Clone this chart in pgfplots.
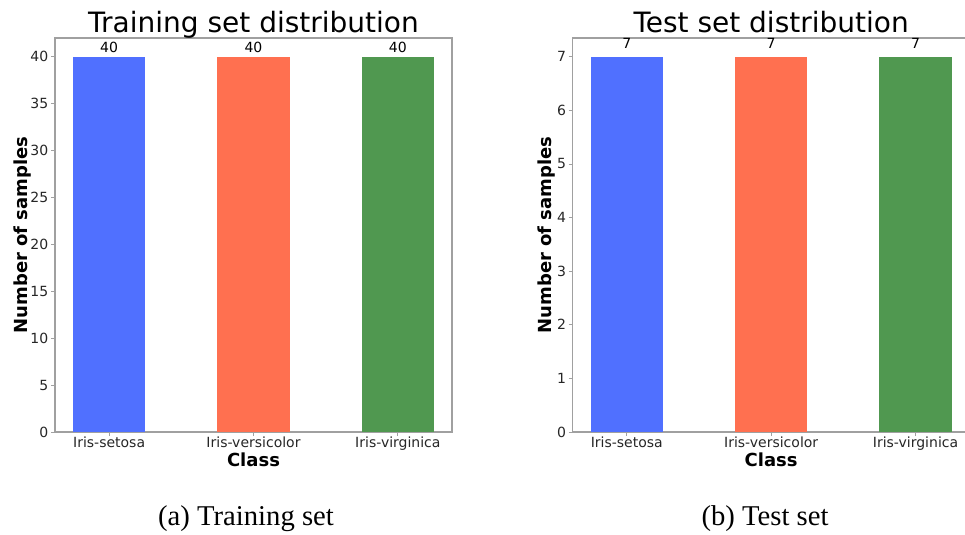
\documentclass[border=0pt]{standalone}
\usepackage{pgfplots}
\pgfplotsset{compat=1.18}
\usepackage{fontspec}
\setmainfont{DejaVu Sans}
\newfontfamily\capfont{Liberation Serif}

\definecolor{barblue}{HTML}{5070FF}
\definecolor{barorange}{HTML}{FF7050}
\definecolor{bargreen}{HTML}{509850}
\definecolor{framegray}{HTML}{A0A0A0}

\pgfplotsset{
  distplot/.style={
    scale only axis,
    width=297.75pt, height=295.5pt,
    xmin=-0.375, xmax=2.375,
    ymin=0,
    xtick={0,1,2},
    xticklabels={Iris-setosa,Iris-versicolor,Iris-virginica},
    xtick pos=lower, ytick pos=left,
    tick align=outside,
    major tick length=3pt,
    tick style={framegray, line width=0.6pt},
    axis line style={framegray, line width=1pt},
    /pgf/number format/assume math mode=true,
    tick label style={font=\fontsize{10.5}{12}\selectfont, text=black!85},
    xticklabel style={yshift=3pt},
    yticklabel style={xshift=1.5pt},
    title style={at={(0.5,1)}, anchor=base, yshift=-2pt,
      font=\fontsize{21}{25}\selectfont},
    xlabel={Class},
    xlabel style={at={(axis description cs:0.5,0)}, anchor=base, yshift=-25.5pt,
      font=\fontsize{13.5}{16}\selectfont\bfseries},
    ylabel={Number of samples},
    ylabel style={font=\fontsize{13.5}{16}\selectfont\bfseries},
    nodes near coords,
    every node near coord/.append style={anchor=base,
      font=\fontsize{10.5}{12}\selectfont},
  },
  classbar/.style={ybar, bar width=0.5, bar shift=0pt, draw=none, fill=#1},
}

\begin{document}
\begin{tikzpicture}
\useasboundingbox (0pt,0pt) rectangle (723.75pt,-401.25pt);

% training split
\begin{axis}[distplot,
  at={(41.25pt,-324pt)}, anchor=south west,
  ymax=42, ytick={0,5,...,40},
  title={Training set distribution},
  ylabel style={at={(axis description cs:-0.0806,0.5)}, anchor=center},
  every node near coord/.append style={yshift=3pt},
]
\addplot[classbar=barblue]   coordinates {(0,40)};
\addplot[classbar=barorange] coordinates {(1,40)};
\addplot[classbar=bargreen]  coordinates {(2,40)};
\end{axis}

% test split
\begin{axis}[distplot,
  at={(429.5pt,-324pt)}, anchor=south west,
  ymax=7.35, ytick={0,1,...,7},
  title={Test set distribution},
  ylabel style={at={(axis description cs:-0.066,0.5)}, anchor=center},
  every node near coord/.append style={yshift=6pt},
]
\addplot[classbar=barblue]   coordinates {(0,7)};
\addplot[classbar=barorange] coordinates {(1,7)};
\addplot[classbar=bargreen]  coordinates {(2,7)};
\end{axis}

\node[font=\capfont\fontsize{21.5}{25}\selectfont, anchor=base] at (184.5pt,-393.75pt) {(a) Training set};
\node[font=\capfont\fontsize{21.5}{25}\selectfont, anchor=base] at (573.75pt,-393.75pt) {(b) Test set};
\end{tikzpicture}
\end{document}
